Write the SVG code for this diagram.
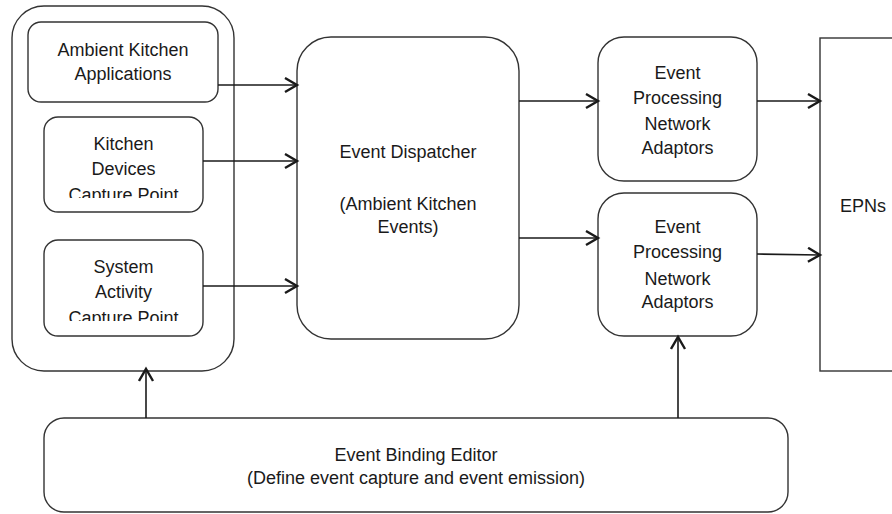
<svg xmlns="http://www.w3.org/2000/svg" width="892" height="514" viewBox="0 0 892 514">
  <style>
    .box { fill: #ffffff; stroke: #333333; stroke-width: 1.4; }
    .lbl { font-family: "Liberation Sans", Arial, sans-serif; font-size: 18px; fill: #1a1a1a; text-anchor: middle; }
    .edge { stroke: #1a1a1a; stroke-width: 1.6; fill: none; marker-end: url(#chev); }
  </style>
  <defs>
    <marker id="chev" markerUnits="userSpaceOnUse" markerWidth="16" markerHeight="18" refX="13" refY="8" orient="auto">
      <path d="M1,1 L13,8 L1,15" fill="none" stroke="#1a1a1a" stroke-width="2.4" stroke-linejoin="miter"/>
    </marker>
    <clipPath id="clipDevices"><rect x="44" y="117" width="159" height="81"/></clipPath>
    <clipPath id="clipSystem"><rect x="44" y="240" width="159" height="81"/></clipPath>
  </defs>

  <rect x="0" y="0" width="892" height="514" fill="#ffffff"/>

  <!-- capture sources container -->
  <g id="sources">
    <rect class="box" x="12" y="6" width="222" height="365" rx="32" ry="32"/>
  </g>

  <g id="ambient-apps">
    <rect class="box" x="28" y="22" width="190" height="80" rx="13" ry="13"/>
    <text class="lbl" x="123" y="56">Ambient Kitchen</text>
    <text class="lbl" x="123" y="80">Applications</text>
  </g>

  <g id="devices-capture">
    <rect class="box" x="44" y="117" width="159" height="95" rx="14" ry="14"/>
    <text class="lbl" x="123.5" y="150">Kitchen</text>
    <text class="lbl" x="123.5" y="175">Devices</text>
    <text class="lbl" x="123.5" y="201" clip-path="url(#clipDevices)">Capture Point</text>
  </g>

  <g id="system-capture">
    <rect class="box" x="44" y="240" width="159" height="96" rx="14" ry="14"/>
    <text class="lbl" x="123.5" y="273">System</text>
    <text class="lbl" x="123.5" y="298">Activity</text>
    <text class="lbl" x="123.5" y="324" clip-path="url(#clipSystem)">Capture Point</text>
  </g>

  <g id="dispatcher">
    <rect class="box" x="297" y="37" width="222" height="302" rx="34" ry="34"/>
    <text class="lbl" x="408" y="158">Event Dispatcher</text>
    <text class="lbl" x="408" y="210">(Ambient Kitchen</text>
    <text class="lbl" x="408" y="233">Events)</text>
  </g>

  <g id="epn-adaptors-1">
    <rect class="box" x="598" y="37" width="159" height="144" rx="26" ry="26"/>
    <text class="lbl" x="677.5" y="79">Event</text>
    <text class="lbl" x="677.5" y="104">Processing</text>
    <text class="lbl" x="677.5" y="130">Network</text>
    <text class="lbl" x="677.5" y="154">Adaptors</text>
  </g>

  <g id="epn-adaptors-2">
    <rect class="box" x="598" y="193" width="159" height="143" rx="26" ry="26"/>
    <text class="lbl" x="677.5" y="233">Event</text>
    <text class="lbl" x="677.5" y="258">Processing</text>
    <text class="lbl" x="677.5" y="285">Network</text>
    <text class="lbl" x="677.5" y="308">Adaptors</text>
  </g>

  <g id="epns">
    <rect class="box" x="820" y="38" width="90" height="333"/>
    <text class="lbl" x="840" y="212" style="text-anchor:start">EPNs</text>
  </g>

  <g id="binding-editor">
    <rect class="box" x="44" y="418" width="744" height="94" rx="20" ry="20"/>
    <text class="lbl" x="416" y="461">Event Binding Editor</text>
    <text class="lbl" x="416" y="484">(Define event capture and event emission)</text>
  </g>

  <!-- connectors -->
  <g id="connectors">
    <line class="edge" x1="218" y1="85" x2="297" y2="85"/>
    <line class="edge" x1="203" y1="161" x2="297" y2="161"/>
    <line class="edge" x1="203" y1="286" x2="297" y2="286"/>
    <line class="edge" x1="519" y1="101" x2="598" y2="101"/>
    <line class="edge" x1="519" y1="238" x2="598" y2="238"/>
    <line class="edge" x1="757" y1="101" x2="820" y2="101"/>
    <line class="edge" x1="757" y1="254" x2="820" y2="255"/>
    <line class="edge" x1="146" y1="418" x2="146" y2="369"/>
    <line class="edge" x1="678" y1="418" x2="678" y2="337"/>
  </g>
</svg>
